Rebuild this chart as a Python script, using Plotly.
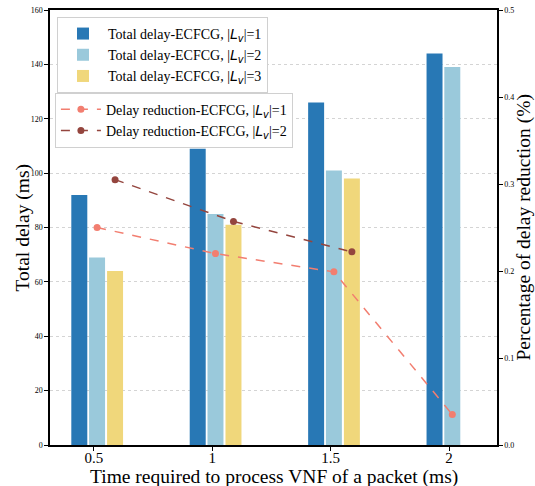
import plotly.graph_objects as go

categories = ["0.5", "1", "1.5", "2"]
delay_L1 = [92, 109, 126, 144]
delay_L2 = [69, 85, 101, 139]
delay_L3 = [64, 81, 98, None]
reduction_L1 = [0.250, 0.220, 0.199, 0.035]
reduction_L2 = [0.305, 0.257, 0.222]

idx = list(range(len(categories)))
bar_w = 0.135
offsets = [-0.19, -0.04, 0.112]
bar_colors = ["#2878b5", "#9ac9db", "#f0d77b"]
line_colors = ["#f27e70", "#94453e"]

lv = '|<span style="font-family:DejaVu Sans"><i>L</i><sub><i>v</i></sub></span>|'

fig = go.Figure()
for k, (vals, col) in enumerate(zip([delay_L1, delay_L2, delay_L3], bar_colors)):
    fig.add_trace(go.Bar(
        x=idx, y=vals, width=bar_w, offset=offsets[k],
        marker=dict(color=col, line=dict(width=0)),
        name=f"Total delay-ECFCG, {lv}={k+1}", legend="legend",
    ))

shift1 = offsets[1] + bar_w / 2
shift2 = offsets[2] + bar_w / 2
fig.add_trace(go.Scatter(
    x=[i + shift1 for i in idx[:len(reduction_L1)]], y=reduction_L1, yaxis="y2",
    mode="lines+markers", line=dict(color=line_colors[0], dash="dash", width=1.5),
    marker=dict(size=7, color=line_colors[0]),
    name=f"Delay reduction-ECFCG, {lv}=1", legend="legend2",
))
fig.add_trace(go.Scatter(
    x=[i + shift2 for i in idx[:len(reduction_L2)]], y=reduction_L2, yaxis="y2",
    mode="lines+markers", line=dict(color=line_colors[1], dash="dash", width=1.5),
    marker=dict(size=7, color=line_colors[1]),
    name=f"Delay reduction-ECFCG, {lv}=2", legend="legend2",
))

serif = "Times New Roman, Liberation Serif, serif"
title_font = dict(size=19.5, family=serif, color="black")
fig.update_layout(
    width=535, height=486,
    margin=dict(l=50, r=38, t=10, b=41),
    plot_bgcolor="white", paper_bgcolor="white",
    barmode="overlay",
    font=dict(family=serif, color="black"),
    xaxis=dict(
        range=[-0.37, 3.405], tickvals=idx, ticktext=categories,
        showline=True, linecolor="black", linewidth=1.5, mirror=True,
        ticks="outside", ticklen=4, tickcolor="black", tickfont=dict(size=15, family=serif, color="black"),
        ticklabelstandoff=-6,
        showgrid=False, zeroline=False, automargin=False,
    ),
    yaxis=dict(
        range=[0, 160], dtick=20, tickformat="d",
        showline=True, linecolor="black", linewidth=1.5,
        ticks="outside", ticklen=4, tickcolor="black", tickfont=dict(size=8, family=serif, color="black"),
        showgrid=True, gridcolor="#d4d4d4", griddash="dot", gridwidth=1,
        zeroline=False, automargin=False,
    ),
    yaxis2=dict(
        range=[0, 0.5], dtick=0.1, tickformat=".1f", overlaying="y", side="right",
        showline=True, linecolor="black", linewidth=1.5,
        ticks="outside", ticklen=4, tickcolor="black", tickfont=dict(size=8, family=serif, color="black"),
        showgrid=False, zeroline=False, automargin=False,
    ),
    legend=dict(
        x=0.0157, y=0.984, xanchor="left", yanchor="top",
        bgcolor="white", bordercolor="#d0d0d0", borderwidth=1,
        font=dict(size=14, family=serif, color="black"), itemwidth=40,
    ),
    legend2=dict(
        x=0.011, y=0.81, xanchor="left", yanchor="top",
        bgcolor="white", bordercolor="#d0d0d0", borderwidth=1,
        font=dict(size=14, family=serif, color="black"), itemwidth=40,
    ),
    annotations=[
        dict(text="Time required to process VNF of a packet (ms)", xref="paper", yref="paper",
             x=0.5, y=0, xanchor="center", yanchor="middle", yshift=-32, showarrow=False, font=title_font),
        dict(text="Total delay (ms)", xref="paper", yref="paper", textangle=-90,
             x=0, y=0.5, xanchor="center", yanchor="middle", xshift=-28, showarrow=False, font=title_font),
        dict(text="Percentage of delay reduction (%)", xref="paper", yref="paper", textangle=-90,
             x=1, y=0.5, xanchor="center", yanchor="middle", xshift=26, showarrow=False, font=title_font),
    ],
)

fig.write_html("out.html")
